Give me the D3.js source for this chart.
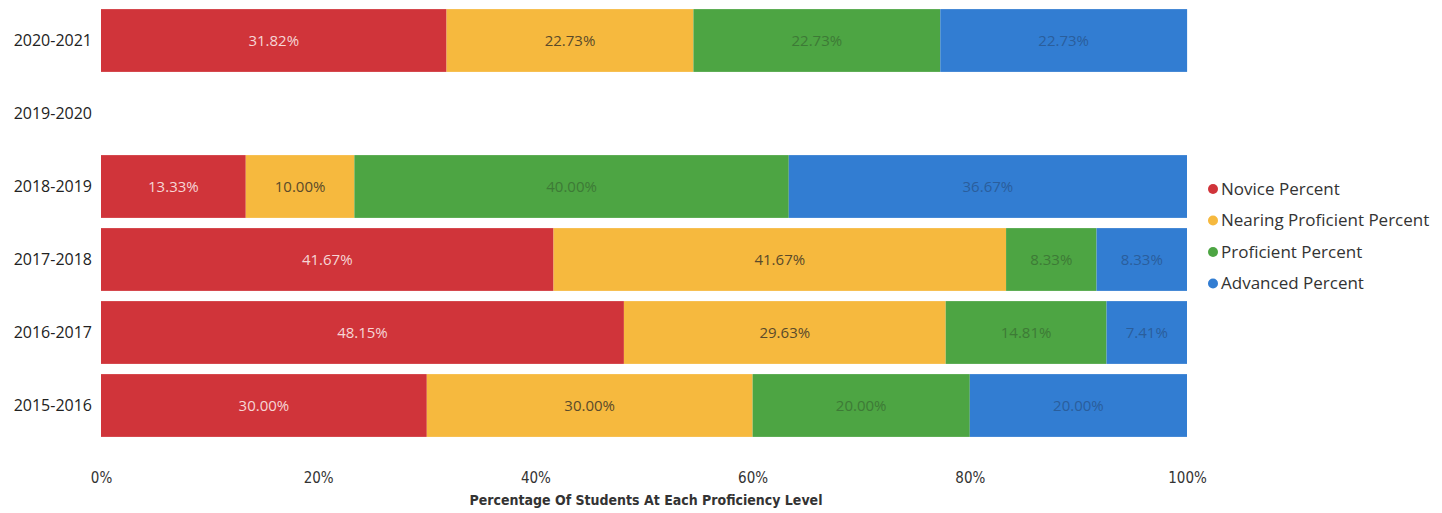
<!DOCTYPE html>
<html>
<head>
<meta charset="utf-8">
<script src="https://cdn.jsdelivr.net/npm/d3@7/dist/d3.min.js"></script>
<style>
  html, body { margin: 0; padding: 0; background: #ffffff; }
  svg { display: block; }
</style>
</head>
<body>
<svg id="chart" width="1442" height="513"></svg>
<script>
// School years, top to bottom
const years = ["2020-2021", "2019-2020", "2018-2019", "2017-2018", "2016-2017", "2015-2016"];
// Proficiency levels (stack order, left to right)
const levels = ["Novice Percent", "Nearing Proficient Percent", "Proficient Percent", "Advanced Percent"];
// Percent of students at each level per year (2019-2020 has no data)
const novice     = [31.82, null, 13.33, 41.67, 48.15, 30.00];
const nearing    = [22.73, null, 10.00, 41.67, 29.63, 30.00];
const proficient = [22.73, null, 40.00,  8.33, 14.81, 20.00];
const advanced   = [22.73, null, 36.67,  8.33,  7.41, 20.00];
const xTicks = [0, 20, 40, 60, 80, 100];
const levelColors = ["#d0343a", "#f6b93e", "#4da543", "#327dd2"];
const labelColors = ["#f6d6d6", "#5a4a2a", "#3d7a36", "#2a5e9c"];

const series = [novice, nearing, proficient, advanced];
const rows = years.map((y, i) => {
  const r = { year: y };
  levels.forEach((l, k) => { r[l] = series[k][i]; });
  return r;
});

const svg = d3.select("#chart");
const margin = { left: 101, right: 255, top: 4, bottom: 71 };
const W = 1442, H = 513;

const x = d3.scaleLinear().domain([0, 100]).range([margin.left, W - margin.right]);
const y = d3.scaleBand().domain(years).range([margin.top, H - margin.bottom]).paddingInner(0.14).paddingOuter(0.07);

const stack = d3.stack().keys(levels).value((d, k) => d[k] == null ? 0 : d[k]);
const stacked = stack(rows);

const layer = svg.append("g").selectAll("g")
  .data(stacked).join("g")
  .attr("fill", (d, i) => levelColors[i]);

layer.selectAll("rect")
  .data(d => d.filter(s => s.data[d.key] != null).map(s => ({ s, key: d.key })))
  .join("rect")
  .attr("x", d => x(d.s[0]))
  .attr("y", d => y(d.s.data.year))
  .attr("width", d => x(d.s[1]) - x(d.s[0]))
  .attr("height", y.bandwidth());

// Value labels inside each segment
stacked.forEach((lay, i) => {
  svg.append("g").selectAll("text")
    .data(lay.filter(s => s.data[lay.key] != null))
    .join("text")
    .attr("x", s => (x(s[0]) + x(s[1])) / 2)
    .attr("y", s => y(s.data.year) + y.bandwidth() / 2)
    .attr("dy", "0.35em")
    .attr("text-anchor", "middle")
    .attr("font-family", "'Open Sans', sans-serif")
    .attr("font-size", 15)
    .attr("fill", labelColors[i])
    .text(s => s.data[lay.key].toFixed(2) + "%");
});

// Category axis labels
svg.append("g").selectAll("text")
  .data(years).join("text")
  .attr("x", 92)
  .attr("y", d => y(d) + y.bandwidth() / 2)
  .attr("dy", "0.35em")
  .attr("text-anchor", "end")
  .attr("font-family", "'Open Sans', sans-serif")
  .attr("font-size", 16)
  .attr("fill", "#222")
  .text(d => d);

// Value axis
const xAxis = d3.axisBottom(x).tickValues(xTicks).tickFormat(d => d + "%").tickSize(0).tickPadding(0);
const ax = svg.append("g").attr("transform", `translate(0, ${H - 41})`).call(xAxis);
ax.select(".domain").remove();
ax.selectAll("text")
  .attr("font-family", "'DejaVu Sans Condensed', 'Liberation Sans Narrow', sans-serif")
  .attr("font-size", 15)
  .attr("fill", "#333");

svg.append("text")
  .attr("x", (x(0) + x(100)) / 2 + 2)
  .attr("y", 505)
  .attr("text-anchor", "middle")
  .attr("font-family", "'DejaVu Sans Condensed', 'Liberation Sans Narrow', sans-serif")
  .attr("font-weight", "bold")
  .attr("font-size", 14)
  .attr("fill", "#333")
  .text("Percentage Of Students At Each Proficiency Level");

// Legend
const lg = svg.append("g").attr("transform", "translate(1213, 189)");
const item = lg.selectAll("g").data(levels).join("g")
  .attr("transform", (d, i) => `translate(0, ${i * 31.5})`);
item.append("circle").attr("r", 5).attr("fill", (d, i) => levelColors[i]);
item.append("text")
  .attr("x", 8).attr("dy", "0.35em")
  .attr("font-family", "'Open Sans', sans-serif")
  .attr("font-size", 17)
  .attr("fill", "#333")
  .text(d => d);
</script>
</body>
</html>
